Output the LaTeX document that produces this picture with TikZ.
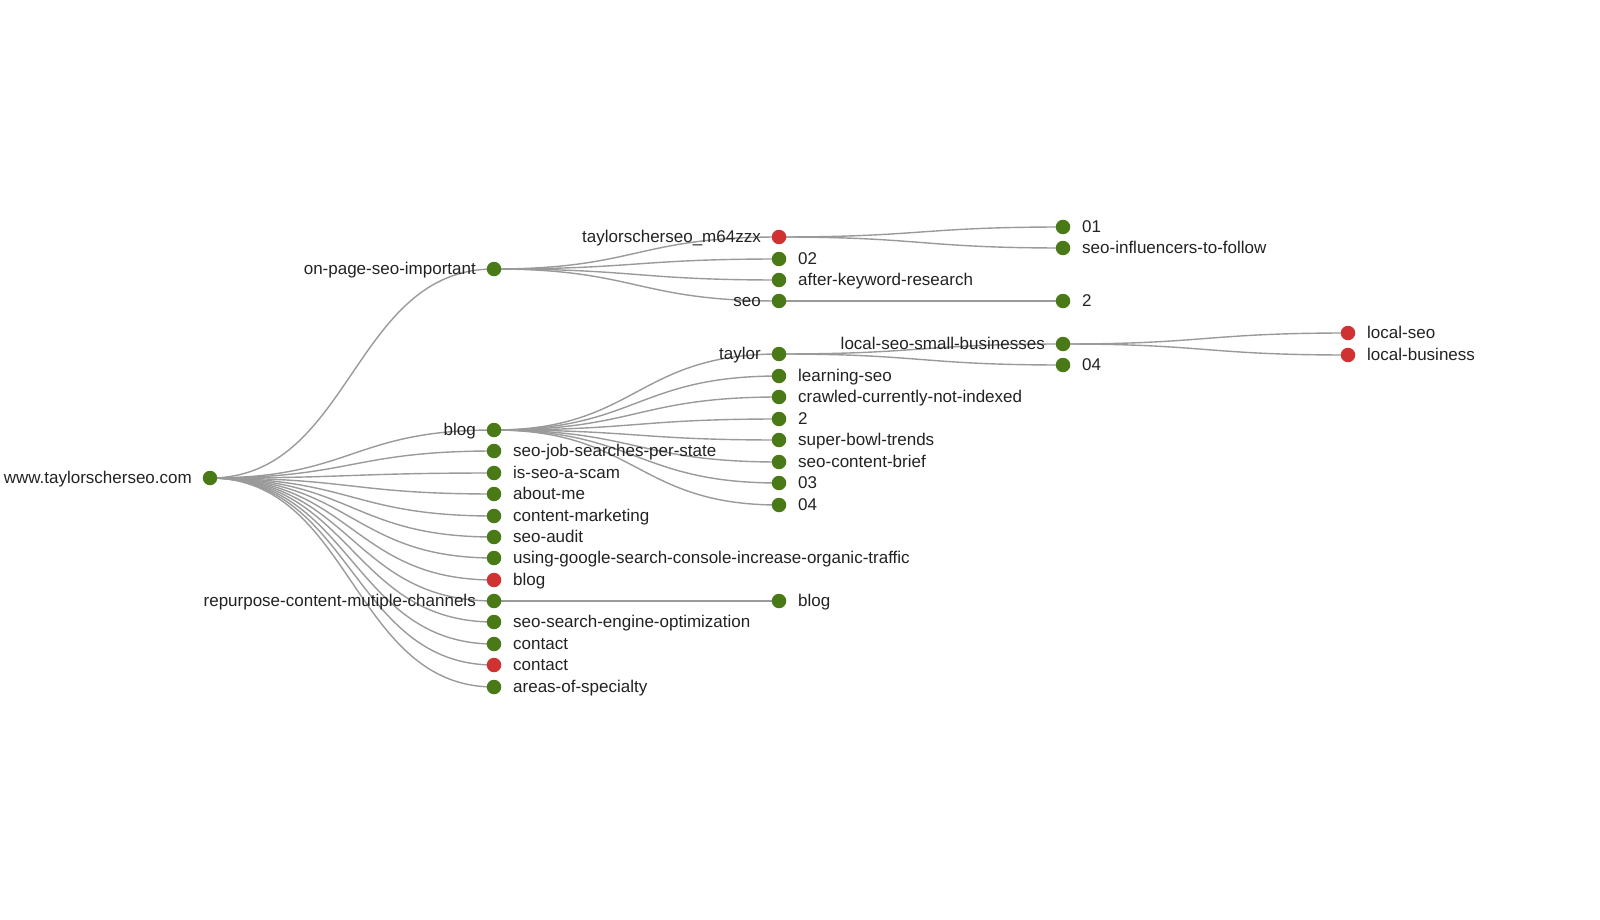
\documentclass[tikz,border=0pt]{standalone}
\usepackage{fontspec}
\setmainfont{Liberation Sans}
\usetikzlibrary{calc}
\definecolor{dotgreen}{HTML}{4A7A18}
\definecolor{dotred}{HTML}{D03232}
\definecolor{linkgray}{HTML}{9A9A9A}
\definecolor{txt}{HTML}{222222}
\tikzset{
  dot/.style={circle,inner sep=0pt,minimum size=14.5pt},
  gn/.style={dot,fill=dotgreen},
  rn/.style={dot,fill=dotred},
  lab/.style={inner sep=0pt,text=txt,font=\fontsize{17}{20}\selectfont},
  labR/.style={lab,anchor=base west},
  labL/.style={lab,anchor=base east},
  link/.style={draw=linkgray,line width=1.4pt}
}
\newcommand\lnk[2]{\draw[link] let \p1=(#1), \p2=(#2) in (\p1) .. controls ({(\x1+\x2)/2},\y1) and ({(\x1+\x2)/2},\y2) .. (\p2);}
\begin{document}
\begin{tikzpicture}[x=1pt,y=-1pt]
\useasboundingbox (0,0) rectangle (1600,920);
% coordinates of nodes
\coordinate (root) at (210,478);
\coordinate (onpage) at (494,269);
\coordinate (blog1) at (494,430);
\coordinate (sjs) at (494,451);
\coordinate (scam) at (494,473);
\coordinate (about) at (494,494);
\coordinate (cm) at (494,516);
\coordinate (audit) at (494,537);
\coordinate (ugsc) at (494,558);
\coordinate (blogr) at (494,580);
\coordinate (repurpose) at (494,601);
\coordinate (sseo) at (494,622);
\coordinate (contact1) at (494,644);
\coordinate (contact2) at (494,665);
\coordinate (areas) at (494,687);
\coordinate (m64) at (779,237);
\coordinate (n02) at (779,259);
\coordinate (akr) at (779,280);
\coordinate (seo) at (779,301);
\coordinate (taylor) at (779,354);
\coordinate (lseo) at (779,376);
\coordinate (crawl) at (779,397);
\coordinate (two) at (779,419);
\coordinate (sbt) at (779,440);
\coordinate (scb) at (779,462);
\coordinate (n03) at (779,483);
\coordinate (n04) at (779,505);
\coordinate (blog2) at (779,601);
\coordinate (n01) at (1063,227);
\coordinate (sif) at (1063,248);
\coordinate (twob) at (1063,301);
\coordinate (lssb) at (1063,344);
\coordinate (n04b) at (1063,365);
\coordinate (localseo) at (1348,333);
\coordinate (localbiz) at (1348,355);
% links
\foreach \t in {onpage,blog1,sjs,scam,about,cm,audit,ugsc,blogr,repurpose,sseo,contact1,contact2,areas} {\lnk{root}{\t}}
\foreach \t in {m64,n02,akr,seo} {\lnk{onpage}{\t}}
\foreach \t in {taylor,lseo,crawl,two,sbt,scb,n03,n04} {\lnk{blog1}{\t}}
\lnk{repurpose}{blog2}
\lnk{m64}{n01}
\lnk{m64}{sif}
\lnk{seo}{twob}
\lnk{taylor}{lssb}
\lnk{taylor}{n04b}
\lnk{lssb}{localseo}
\lnk{lssb}{localbiz}
% dots
\foreach \n in {root,onpage,blog1,sjs,scam,about,cm,audit,ugsc,repurpose,sseo,contact1,areas,n02,akr,seo,taylor,lseo,crawl,two,sbt,scb,n03,n04,blog2,n01,sif,twob,lssb,n04b} {\node[gn] (d-\n) at (\n) {};}
\foreach \n in {blogr,contact2,m64,localseo,localbiz} {\node[rn] (d-\n) at (\n) {};}
% labels
\node[labL] (t-root) at ($(root)+(-18,5.3)$) {www.taylorscherseo.com};
\node[labL] (t-onpage) at ($(onpage)+(-18,5.3)$) {on-page-seo-important};
\node[labL] (t-blog1) at ($(blog1)+(-18,5.3)$) {blog};
\node[labR] (t-sjs) at ($(sjs)+(19,5.3)$) {seo-job-searches-per-state};
\node[labR] (t-scam) at ($(scam)+(19,5.3)$) {is-seo-a-scam};
\node[labR] (t-about) at ($(about)+(19,5.3)$) {about-me};
\node[labR] (t-cm) at ($(cm)+(19,5.3)$) {content-marketing};
\node[labR] (t-audit) at ($(audit)+(19,5.3)$) {seo-audit};
\node[labR] (t-ugsc) at ($(ugsc)+(19,5.3)$) {using-google-search-console-increase-organic-traffic};
\node[labR] (t-blogr) at ($(blogr)+(19,5.3)$) {blog};
\node[labL] (t-repurpose) at ($(repurpose)+(-18,5.3)$) {repurpose-content-mutiple-channels};
\node[labR] (t-sseo) at ($(sseo)+(19,5.3)$) {seo-search-engine-optimization};
\node[labR] (t-contact1) at ($(contact1)+(19,5.3)$) {contact};
\node[labR] (t-contact2) at ($(contact2)+(19,5.3)$) {contact};
\node[labR] (t-areas) at ($(areas)+(19,5.3)$) {areas-of-specialty};
\node[labL] (t-m64) at ($(m64)+(-18,5.3)$) {taylorscherseo\_m64zzx};
\node[labR] (t-n02) at ($(n02)+(19,5.3)$) {02};
\node[labR] (t-akr) at ($(akr)+(19,5.3)$) {after-keyword-research};
\node[labL] (t-seo) at ($(seo)+(-18,5.3)$) {seo};
\node[labL] (t-taylor) at ($(taylor)+(-18,5.3)$) {taylor};
\node[labR] (t-lseo) at ($(lseo)+(19,5.3)$) {learning-seo};
\node[labR] (t-crawl) at ($(crawl)+(19,5.3)$) {crawled-currently-not-indexed};
\node[labR] (t-two) at ($(two)+(19,5.3)$) {2};
\node[labR] (t-sbt) at ($(sbt)+(19,5.3)$) {super-bowl-trends};
\node[labR] (t-scb) at ($(scb)+(19,5.3)$) {seo-content-brief};
\node[labR] (t-n03) at ($(n03)+(19,5.3)$) {03};
\node[labR] (t-n04) at ($(n04)+(19,5.3)$) {04};
\node[labR] (t-blog2) at ($(blog2)+(19,5.3)$) {blog};
\node[labR] (t-n01) at ($(n01)+(19,5.3)$) {01};
\node[labR] (t-sif) at ($(sif)+(19,5.3)$) {seo-influencers-to-follow};
\node[labR] (t-twob) at ($(twob)+(19,5.3)$) {2};
\node[labL] (t-lssb) at ($(lssb)+(-18,5.3)$) {local-seo-small-businesses};
\node[labR] (t-n04b) at ($(n04b)+(19,5.3)$) {04};
\node[labR] (t-localseo) at ($(localseo)+(19,5.3)$) {local-seo};
\node[labR] (t-localbiz) at ($(localbiz)+(19,5.3)$) {local-business};
\end{tikzpicture}
\end{document}
